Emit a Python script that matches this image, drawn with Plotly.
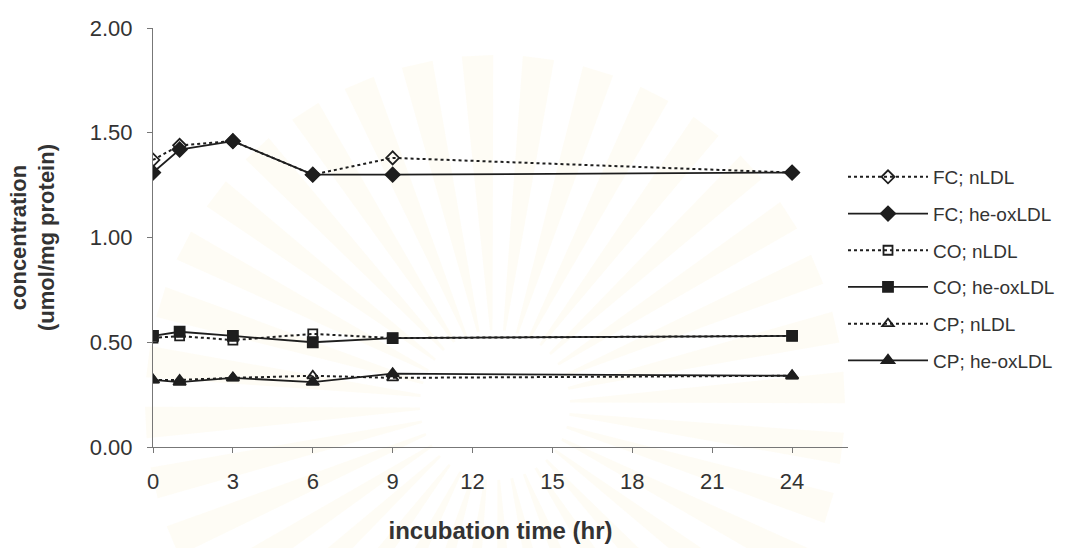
import math
import plotly.graph_objects as go

# Incubation time points (hr)
hours = [0, 1, 3, 6, 9, 24]

# Concentrations (umol/mg protein)
fc_nldl = [1.37, 1.44, 1.46, 1.30, 1.38, 1.31]
fc_heox = [1.31, 1.42, 1.46, 1.30, 1.30, 1.31]
co_nldl = [0.52, 0.53, 0.51, 0.54, 0.52, 0.53]
co_heox = [0.53, 0.55, 0.53, 0.50, 0.52, 0.53]
cp_nldl = [0.32, 0.32, 0.33, 0.34, 0.33, 0.34]
cp_heox = [0.32, 0.31, 0.33, 0.31, 0.35, 0.34]

x_ticks = [0, 3, 6, 9, 12, 15, 18, 21, 24]
y_ticks = [0.0, 0.5, 1.0, 1.5, 2.0]
y_ticktext = ["0.00", "0.50", "1.00", "1.50", "2.00"]

W, H = 1066, 548
L, R, T, B = 153, 848, 28, 447

INK = "#1e1e1e"
series = [
    ("FC; nLDL", fc_nldl, "dot", "diamond-open", 10),
    ("FC; he-oxLDL", fc_heox, "solid", "diamond", 11),
    ("CO; nLDL", co_nldl, "dot", "square-open", 9),
    ("CO; he-oxLDL", co_heox, "solid", "square", 10),
    ("CP; nLDL", cp_nldl, "dot", "triangle-up-open", 10),
    ("CP; he-oxLDL", cp_heox, "solid", "triangle-up", 11),
]

fig = go.Figure()
for i, (name, vals, dash, sym, size) in enumerate(series):
    fig.add_trace(go.Scatter(
        x=hours, y=vals, name=name, mode="lines+markers",
        legendgroup=f"g{i}",
        line=dict(color=INK, width=1.8 if dash == "solid" else 2.0, dash=dash),
        marker=dict(symbol=sym, size=size, color=INK,
                    line=dict(color=INK, width=1.8)),
    ))


# faint sunburst watermark behind the plot
def to_paper(px, py):
    return (px - L) / (R - L), (B - py) / (B - T)


cx, cy = 495, 405
shapes = []
n_rays = 36
for k in range(n_rays):
    a = 2 * math.pi * k / n_rays + 0.05
    half = 0.045
    r0, r1 = 75, 350
    pts = [
        (cx + r0 * math.cos(a - half * 0.4), cy - r0 * math.sin(a - half * 0.4)),
        (cx + r1 * math.cos(a - half), cy - r1 * math.sin(a - half)),
        (cx + r1 * math.cos(a + half), cy - r1 * math.sin(a + half)),
        (cx + r0 * math.cos(a + half * 0.4), cy - r0 * math.sin(a + half * 0.4)),
    ]
    path = "M " + " L ".join(
        "{:.4f},{:.4f}".format(*to_paper(px, py)) for px, py in pts) + " Z"
    shapes.append(dict(type="path", path=path, xref="paper", yref="paper",
                       fillcolor="rgba(245,228,160,0.10)", line=dict(width=0),
                       layer="below"))

fig.update_layout(
    width=W, height=H,
    margin=dict(l=L, r=W - R, t=T, b=H - B, pad=0, autoexpand=False),
    paper_bgcolor="white", plot_bgcolor="rgba(0,0,0,0)",
    font=dict(family="Liberation Sans, Arial, sans-serif", color="#333"),
    shapes=shapes,
    showlegend=True,
    legend=dict(
        x=(843 - L) / (R - L), xanchor="left",
        y=(B - 158) / (B - T), yanchor="top",
        font=dict(size=19, color="#333"),
        itemwidth=80, tracegroupgap=9,
        bgcolor="rgba(0,0,0,0)",
    ),
    xaxis=dict(
        range=[0, 26.1], tickvals=x_ticks, ticktext=[str(t) for t in x_ticks],
        showgrid=False, zeroline=False, showline=True, linecolor="#777",
        linewidth=1.2, ticks="outside", ticklen=5, tickcolor="#777",
        tickfont=dict(size=22, color="#333"), ticklabelstandoff=9,
        title=dict(text="<b>incubation time (hr)</b>",
                   font=dict(size=24, color="#333"), standoff=29),
    ),
    yaxis=dict(
        range=[0, 2.0], tickvals=y_ticks, ticktext=y_ticktext,
        showgrid=False, zeroline=False, showline=True, linecolor="#777",
        linewidth=1.2, ticks="outside", ticklen=5, tickcolor="#777",
        tickfont=dict(size=22, color="#333"), ticklabelstandoff=10,
        title=dict(text="<b>concentration<br>(umol/mg protein)</b>",
                   font=dict(size=22, color="#333"), standoff=28),
    ),
)

fig.write_html("out.html")
